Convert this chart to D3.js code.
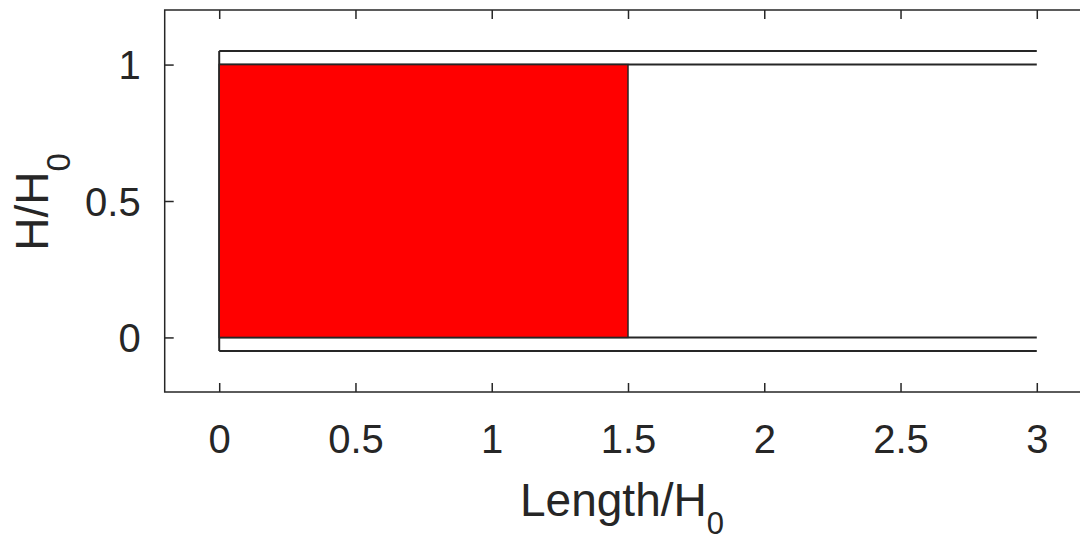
<!DOCTYPE html>
<html><head><meta charset="utf-8">
<script src="https://cdn.jsdelivr.net/npm/d3@7"></script>
<style>body{margin:0;background:#fff;overflow:hidden}svg{display:block}text{font-family:"Liberation Sans",Arial,sans-serif;fill:#262626}</style>
</head><body>
<svg id="c" width="1080" height="542"></svg>
<script>
const xTicks = [0, 0.5, 1, 1.5, 2, 2.5, 3];
const yTicks = [0, 0.5, 1];
const xDomain = [-0.2, 3.2];
const yDomain = [-0.2, 1.2];
// red block: [x0, x1, y0, y1]
const block = [0, 1.5, 0, 1];
// channel walls: horizontal lines [x0, x1, y]
const walls = [[0, 3, 1.05], [0, 3, 1], [0, 3, 0], [0, 3, -0.05]];
// left vertical wall: [x, y0, y1]
const leftWall = [0, -0.05, 1.05];

const svg = d3.select("#c");
const L = 164.7, T = 10, B = 392;
const x = d3.scaleLinear().domain(xDomain).range([L, 217.7 + 3.2 * 273]);
const y = d3.scaleLinear().domain(yDomain).range([B, T]);
const col = "#262626";

const g = svg.append("g");
// walls
g.selectAll("line.wall").data(walls).join("line")
  .attr("x1", d => x(d[0])).attr("x2", d => x(d[1]))
  .attr("y1", d => y(d[2])).attr("y2", d => y(d[2]))
  .attr("stroke", col).attr("stroke-width", 2);
g.append("line").attr("x1", x(leftWall[0])).attr("x2", x(leftWall[0]))
  .attr("y1", y(leftWall[1])).attr("y2", y(leftWall[2]))
  .attr("stroke", col).attr("stroke-width", 2);
// red block
g.append("rect")
  .attr("x", x(block[0])).attr("y", y(block[3]))
  .attr("width", x(block[1]) - x(block[0])).attr("height", y(block[2]) - y(block[3]))
  .attr("fill", "#ff0000").attr("stroke", col).attr("stroke-width", 1.5);

// axes box
const R = x(xDomain[1]);
g.append("rect").attr("x", L).attr("y", T).attr("width", R - L).attr("height", B - T)
  .attr("fill", "none").attr("stroke", col).attr("stroke-width", 1.5);

// x axis
const xa = svg.append("g").attr("transform", `translate(0,${B})`)
  .call(d3.axisBottom(x).tickValues(xTicks).tickSizeInner(-9).tickSizeOuter(0).tickPadding(40).tickFormat(d => String(d)));
xa.select(".domain").remove();
xa.selectAll("line").attr("stroke", col).attr("stroke-width", 1.5);
xa.selectAll("text").attr("font-size", 40).attr("fill", col).attr("dy", 0).attr("y", 61);
// top ticks
svg.append("g").attr("transform", `translate(0,${T})`)
  .call(d3.axisTop(x).tickValues(xTicks).tickSizeInner(-9).tickSizeOuter(0).tickFormat(""))
  .call(s => { s.select(".domain").remove(); s.selectAll("line").attr("stroke", col).attr("stroke-width", 1.5); });

// y axis
const ya = svg.append("g").attr("transform", `translate(${L},0)`)
  .call(d3.axisLeft(y).tickValues(yTicks).tickSizeInner(-9).tickSizeOuter(0).tickPadding(24).tickFormat(d => String(d)));
ya.select(".domain").remove();
ya.selectAll("line").attr("stroke", col).attr("stroke-width", 1.5);
ya.selectAll("text").attr("font-size", 40).attr("fill", col).attr("dy", "0.36em");
// right ticks
svg.append("g").attr("transform", `translate(${R},0)`)
  .call(d3.axisRight(y).tickValues(yTicks).tickSizeInner(-9).tickSizeOuter(0).tickFormat(""))
  .call(s => { s.select(".domain").remove(); s.selectAll("line").attr("stroke", col).attr("stroke-width", 1.5); });

// x label
const xl = svg.append("text").attr("x", 622).attr("y", 516).attr("text-anchor", "middle").attr("font-size", 46);
xl.append("tspan").text("Length/H");
xl.append("tspan").attr("font-size", 31).attr("dy", 18).text("0");

// y label
const yl = svg.append("text").attr("transform", "translate(48,202) rotate(-90)").attr("text-anchor", "middle").attr("font-size", 46);
yl.append("tspan").text("H/H");
yl.append("tspan").attr("font-size", 33).attr("dy", 22).text("0");
</script>
</body></html>
